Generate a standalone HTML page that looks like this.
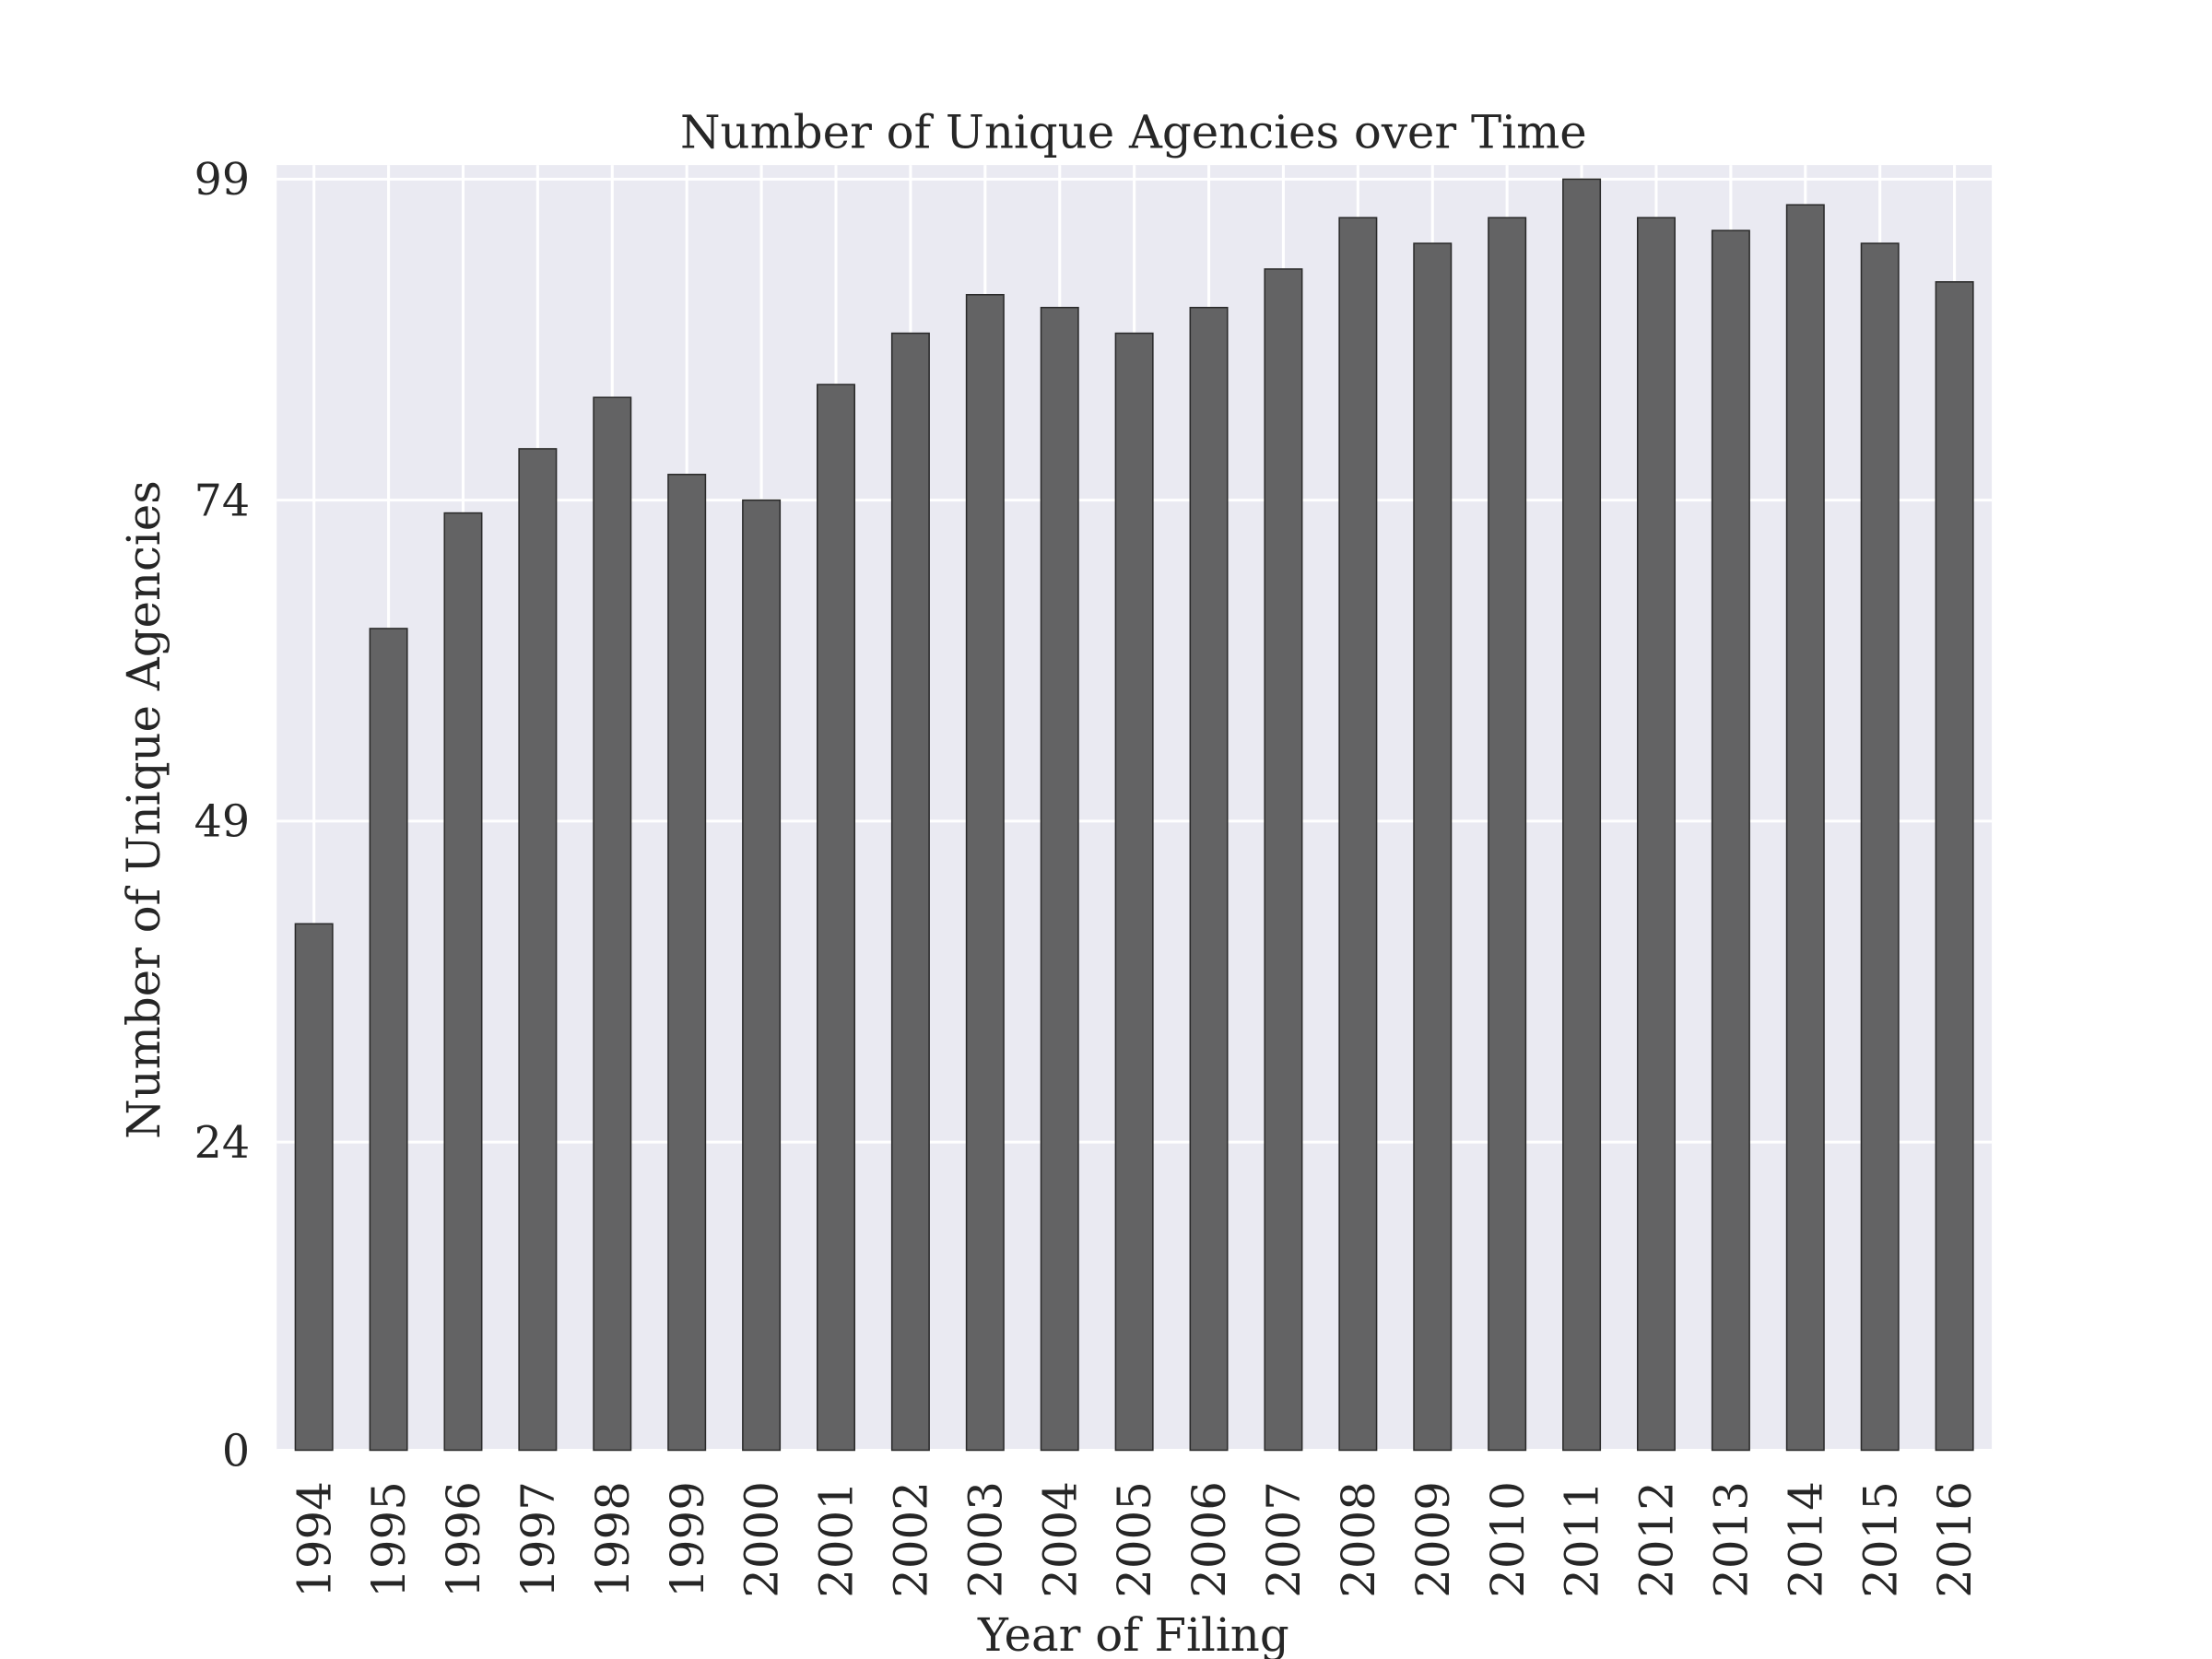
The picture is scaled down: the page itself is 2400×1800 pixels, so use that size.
<!DOCTYPE html>
<html><head><meta charset="utf-8"><style>
html,body{margin:0;padding:0;background:#fff;}
svg{display:block;}
text{font-family:"DejaVu Serif","Liberation Serif",serif;fill:#262626;}
</style></head><body>
<svg id="chart" width="2400" height="1800" viewBox="0 0 1567 1176" preserveAspectRatio="none" xmlns="http://www.w3.org/2000/svg">
<rect x="196" y="117" width="1215" height="911" fill="#EAEAF2"/>
<g id="grid"></g>
<g id="bars"></g>
<g id="labels"></g>
<text x="803" y="105" font-size="32.5" text-anchor="middle">Number of Unique Agencies over Time</text>
<text x="803" y="1170" font-size="32.5" text-anchor="middle">Year of Filing</text>
<text x="0" y="0" font-size="32.5" text-anchor="middle" transform="translate(113,574) rotate(-90)">Number of Unique Agencies</text>
</svg>
<script>
const categories = ["1994","1995","1996","1997","1998","1999","2000","2001","2002","2003","2004","2005","2006","2007","2008","2009","2010","2011","2012","2013","2014","2015","2016"];
const values = [41,64,73,78,82,76,74,83,87,90,89,87,89,92,96,94,96,99,96,95,97,94,91];
const yTicks = [0,24,49,74,99];
const NS = "http://www.w3.org/2000/svg";
const L = 196, R = 1411, B = 1028, T = 117;
const yMax = (B - T) / ((B - 127) / 99);
function y(v){ return B - v / yMax * (B - T); }
const step = (R - L) / categories.length;
function x(i){ return L + step * (i + 0.5); }
const bw = step * 0.5;
const grid = document.getElementById('grid');
const bars = document.getElementById('bars');
const labels = document.getElementById('labels');
function mk(tag, attrs, parent){ const e = document.createElementNS(NS, tag); for (const k in attrs) e.setAttribute(k, attrs[k]); parent.appendChild(e); return e; }
yTicks.forEach(t => {
  const g = mk('line', {x1:L, x2:R, y1:y(t), y2:y(t), stroke:'#fff', 'stroke-width':2}, grid);
  
  
  const tx = mk('text', {x:177, y:y(t)+11, 'font-size':31, 'text-anchor':'end'}, labels);
  tx.textContent = t;
  
  
});
categories.forEach((c, i) => {
  const g = mk('line', {x1:x(i), x2:x(i), y1:T, y2:B, stroke:'#fff', 'stroke-width':2}, grid);
  
  
  const r = mk('rect', {x:x(i)-bw/2, y:y(values[i]), width:bw, height:B-y(values[i]), fill:'#636364', stroke:'#2a2a2a', 'stroke-width':1}, bars);
  
  
  const tx = mk('text', {x:0, y:0, 'font-size':32.5, 'text-anchor':'end', transform:'translate(' + (x(i)+11.5) + ',1050) rotate(-90)'}, labels);
  tx.textContent = c;
  
  
});
</script>
</body></html>
